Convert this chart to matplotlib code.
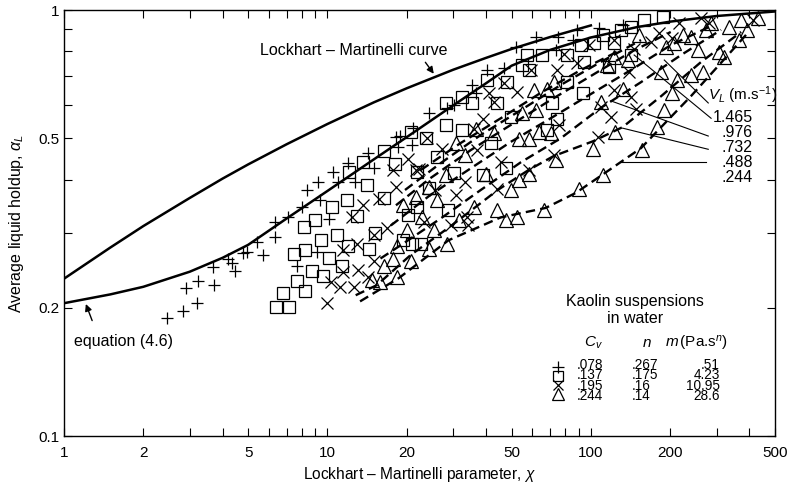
import matplotlib
matplotlib.use("Agg")
import matplotlib.pyplot as plt
from matplotlib.ticker import FixedLocator, FixedFormatter, NullFormatter

plt.rcParams['font.family'] = ['Liberation Sans', 'DejaVu Sans']
plt.rcParams['mathtext.fontset'] = 'custom'
plt.rcParams['mathtext.rm'] = 'Liberation Sans'
plt.rcParams['mathtext.it'] = 'Liberation Sans:italic'

# Lockhart-Martinelli curve
lm_x = [1, 1.5, 2, 3, 4, 5, 7, 10, 15, 20, 30, 40, 50, 70, 100]
lm_y = [0.234, 0.277, 0.311, 0.362, 0.402, 0.434, 0.484, 0.540, 0.607, 0.655,
        0.724, 0.772, 0.810, 0.864, 0.920]

# equation (4.6)
eq_x = [1, 1.5, 2, 3, 4, 5, 7, 10, 15, 20, 30, 40, 50, 70, 100, 150, 200, 300, 500]
eq_y = [0.205, 0.215, 0.224, 0.243, 0.262, 0.281, 0.324, 0.376, 0.446, 0.503,
        0.597, 0.673, 0.740, 0.806, 0.862, 0.912, 0.939, 0.968, 0.992]

# Kaolin suspensions, Cv = .078
plus_x = [2.46, 2.82, 3.21, 2.91, 3.23, 3.72, 3.68, 4.21, 4.34, 4.47, 4.78, 4.95,
          5.40, 5.71, 6.34, 6.34, 7.10, 7.66, 8.01, 8.36, 9.13, 9.22, 9.40, 10.1,
          10.5, 11.0, 12.0, 12.7, 14.2, 15.0, 18.2, 18.9, 21.0, 21.2, 24.2, 18.6,
          28.5, 30.2, 35.5, 36.5, 40.5, 46.7, 51.8, 61.7, 75.3, 85.2, 88.9, 107,
          132, 73.6]
plus_y = [0.189, 0.197, 0.205, 0.222, 0.231, 0.226, 0.249, 0.260, 0.255, 0.244,
          0.269, 0.270, 0.285, 0.266, 0.318, 0.293, 0.327, 0.250, 0.345, 0.378,
          0.270, 0.395, 0.358, 0.324, 0.417, 0.395, 0.437, 0.395, 0.461, 0.425,
          0.504, 0.507, 0.482, 0.528, 0.573, 0.477, 0.588, 0.600, 0.667, 0.637,
          0.723, 0.730, 0.819, 0.866, 0.866, 0.850, 0.898, 0.906, 0.921, 0.806]

# Cv = .137
sq_x = [6.39, 7.17, 6.78, 8.24, 7.66, 8.70, 9.59, 11.4, 10.1, 7.44, 8.24, 9.48,
        10.9, 12.0, 14.4, 15.2, 8.12, 9.00, 10.4, 11.9, 13.0, 16.4, 14.1, 12.1,
        13.7, 16.4, 18.0, 19.4, 21.0, 22.6, 21.8, 20.2, 21.9, 24.2, 28.8, 30.2,
        38.8, 47.5, 41.7, 32.5, 26.1, 23.6, 20.7, 28.1, 49.6, 68.3, 28.1, 32.5,
        35.5, 40.5, 48.2, 55.0, 58.2, 65.5, 57.4, 81.4, 91.6, 103, 111, 94.3,
        81.4, 93.0, 44.2, 74.5, 117, 130, 142, 159, 188, 122, 142, 71.5]
sq_y = [0.201, 0.201, 0.217, 0.219, 0.231, 0.244, 0.237, 0.251, 0.262, 0.268,
        0.273, 0.289, 0.297, 0.280, 0.275, 0.299, 0.309, 0.321, 0.344, 0.359,
        0.328, 0.362, 0.388, 0.416, 0.440, 0.467, 0.436, 0.288, 0.283, 0.283,
        0.417, 0.330, 0.344, 0.382, 0.339, 0.414, 0.410, 0.426, 0.487, 0.523,
        0.452, 0.500, 0.518, 0.537, 0.562, 0.523, 0.605, 0.626, 0.605, 0.685,
        0.676, 0.742, 0.723, 0.784, 0.784, 0.784, 0.827, 0.835, 0.874, 0.756,
        0.676, 0.637, 0.604, 0.556, 0.735, 0.898, 0.913, 0.947, 0.964, 0.835,
        0.784, 0.604]

# Cv = .195
cross_x = [9.95, 10.3, 11.2, 12.6, 11.5, 13.1, 11.5, 12.9, 15.0, 16.8, 15.0, 14.3,
           12.4, 13.7, 15.7, 18.2, 17.7, 20.3, 27.3, 22.2, 25.7, 30.7, 33.4, 37.1,
           45.5, 44.2, 58.2, 72.4, 75.6, 106, 29.4, 34.3, 23.3, 109, 122, 142, 119,
           33.9, 122, 146, 169, 181, 216, 262, 281, 412, 139, 148, 204, 79, 98,
           59.1, 74.5, 42.9, 52.5, 38.8, 36.0, 23.8, 21.6, 46.7, 41.0, 88.8]
cross_y = [0.205, 0.230, 0.224, 0.224, 0.243, 0.245, 0.273, 0.283, 0.296, 0.307,
           0.257, 0.236, 0.327, 0.348, 0.361, 0.385, 0.421, 0.448, 0.473, 0.424,
           0.378, 0.368, 0.395, 0.469, 0.440, 0.381, 0.421, 0.456, 0.537, 0.504,
           0.312, 0.312, 0.318, 0.593, 0.649, 0.626, 0.561, 0.327, 0.850, 0.812,
           0.842, 0.882, 0.930, 0.956, 0.930, 0.947, 0.716, 0.587, 0.858, 0.790,
           0.827, 0.723, 0.723, 0.609, 0.641, 0.556, 0.527, 0.500, 0.420, 0.673,
           0.637, 0.749]

# Cv = .244
tri_x = [20.7, 28.5, 36.0, 44.2, 47.5, 52.5, 66.4, 90.0, 111, 53.2, 58.2, 73.5,
         102, 124, 58.2, 63.4, 53.2, 42.9, 39.9, 30.7, 28.1, 33.4, 24.3, 26.1,
         21.6, 25.3, 22.9, 20.0, 24.3, 31.5, 157, 179, 190, 49.6, 70.4, 122, 213,
         240, 266, 185, 207, 274, 335, 430, 307, 321, 365, 240, 204, 392, 372,
         286, 223, 193, 254, 36.5, 55.0, 61.7, 68.3, 60.8, 72.4, 109, 132, 115,
         138, 152, 19.4, 18.4, 17.7, 16.4, 14.8, 15.9, 18.4]
tri_y = [0.257, 0.283, 0.345, 0.339, 0.321, 0.327, 0.339, 0.381, 0.410, 0.399,
         0.413, 0.444, 0.473, 0.518, 0.499, 0.518, 0.499, 0.514, 0.413, 0.486,
         0.410, 0.456, 0.385, 0.358, 0.364, 0.304, 0.327, 0.304, 0.275, 0.321,
         0.469, 0.532, 0.582, 0.378, 0.514, 0.777, 0.685, 0.704, 0.716, 0.716,
         0.835, 0.898, 0.913, 0.956, 0.799, 0.777, 0.850, 0.866, 0.637, 0.898,
         0.947, 0.930, 0.874, 0.819, 0.806, 0.527, 0.572, 0.582, 0.654, 0.649,
         0.676, 0.609, 0.654, 0.742, 0.763, 0.874, 0.348, 0.280, 0.261, 0.250,
         0.232, 0.230, 0.236]

# dashed constant-V_L curves
vl_curve_x = [
    [13.3, 18.7, 28.8, 45.5, 67.3, 87.6, 109, 155, 193, 240, 299, 388],
    [12.8, 15.4, 20.7, 29.4, 44.3, 58.0, 72.2, 102, 132, 185, 262, 372],
    [15.9, 18.9, 26.9, 38.2, 54.2, 76.9, 109, 155, 220, 312],
    [17.4, 24.6, 35.0, 49.6, 70.4, 100, 142, 201, 286],
    [18.2, 24.6, 35.0, 49.6, 70.4, 100, 142, 201],
    [19.7, 26.9, 38.2, 54.2, 76.9, 109, 155],
    [22.6, 32.0, 45.5, 64.5, 91.6, 130],
]
vl_curve_y = [
    [0.207, 0.235, 0.288, 0.326, 0.343, 0.372, 0.408, 0.474, 0.546, 0.628, 0.730, 0.874],
    [0.214, 0.226, 0.266, 0.311, 0.378, 0.421, 0.454, 0.492, 0.531, 0.628, 0.755, 0.888],
    [0.261, 0.280, 0.324, 0.378, 0.439, 0.500, 0.589, 0.677, 0.784, 0.898],
    [0.312, 0.368, 0.425, 0.490, 0.557, 0.635, 0.723, 0.827, 0.917],
    [0.348, 0.403, 0.469, 0.537, 0.615, 0.700, 0.797, 0.888],
    [0.378, 0.437, 0.509, 0.582, 0.667, 0.755, 0.850],
    [0.421, 0.487, 0.557, 0.639, 0.723, 0.806],
]

vl_labels = ["1.465", ".976", ".732", ".488", ".244"]
# pointer lines from the labels to the curves: (x0, y0, x1, y1)
pointers = [
    (279, 0.605, 190, 0.763),
    (286, 0.557, 146, 0.784),
    (279, 0.506, 119, 0.612),
    (279, 0.471, 132, 0.528),
    (274, 0.439, 130, 0.439),
]

legend_cv = [".078", ".137", ".195", ".244"]
legend_n = [".267", ".175", ".16", ".14"]
legend_m = [".51", "4.23", "10.95", "28.6"]

fig = plt.figure(figsize=(7.92, 4.87), dpi=100)
ax = fig.add_axes([64 / 792, 51 / 487, 711 / 792, 426 / 487])
ax.set_xscale("log")
ax.set_yscale("log")
ax.set_xlim(1, 500)
ax.set_ylim(0.1, 1)

ax.plot(lm_x, lm_y, color="k", lw=1.8)
ax.plot(eq_x, eq_y, color="k", lw=1.8)

for xs, ys in zip(vl_curve_x, vl_curve_y):
    ax.plot(xs, ys, color="k", lw=1.7, ls=(0, (4, 2.2)))

mk = dict(ls="none", color="k", mfc="none", mew=0.9)
ax.plot(plus_x, plus_y, marker="+", ms=9, **mk)
ax.plot(sq_x, sq_y, marker="s", ms=8.5, **mk)
ax.plot(cross_x, cross_y, marker="x", ms=8, **mk)
ax.plot(tri_x, tri_y, marker="^", ms=10, **mk)

for x0, y0, x1, y1 in pointers:
    ax.plot([x0, x1], [y0, y1], color="k", lw=0.8)

# ticks
ax.xaxis.set_major_locator(FixedLocator([1, 2, 5, 10, 20, 50, 100, 200, 500]))
ax.xaxis.set_major_formatter(FixedFormatter(["1", "2", "5", "10", "20", "50", "100", "200", "500"]))
ax.xaxis.set_minor_locator(FixedLocator([3, 4, 6, 7, 8, 9, 30, 40, 60, 70, 80, 90, 300, 400]))
ax.xaxis.set_minor_formatter(NullFormatter())
ax.yaxis.set_major_locator(FixedLocator([0.1, 0.2, 0.5, 1]))
ax.yaxis.set_major_formatter(FixedFormatter(["0.1", "0.2", "0.5", "1"]))
ax.yaxis.set_minor_locator(FixedLocator([0.3, 0.4, 0.6, 0.7, 0.8, 0.9]))
ax.yaxis.set_minor_formatter(NullFormatter())
ax.tick_params(which="both", direction="in", top=True, right=True, length=6, width=0.8,
               labelsize=11)
ax.tick_params(axis="x", pad=7)
ax.tick_params(axis="y", pad=3)
for s in ax.spines.values():
    s.set_linewidth(1.0)

ax.set_xlabel(r"Lockhart – Martinelli parameter, $\chi$", fontsize=11.2, labelpad=4)
ax.set_ylabel(r"Average liquid holdup, $\alpha_L$", fontsize=11.5, labelpad=9)

# annotations
ax.text(0.2757, 0.906, "Lockhart – Martinelli curve", transform=ax.transAxes,
        fontsize=11.5, ha="left", va="center")
ax.annotate("", xy=(25.7, 0.70), xytext=(23.2, 0.763),
            arrowprops=dict(arrowstyle="-|>", color="k", lw=1.0, mutation_scale=10))
ax.text(0.014, 0.2207, "equation (4.6)", transform=ax.transAxes,
        fontsize=11.5, ha="left", va="center")
ax.annotate("", xy=(1.2, 0.207), xytext=(1.29, 0.184),
            arrowprops=dict(arrowstyle="-|>", color="k", lw=1.0, mutation_scale=10))

ax.text(0.9058, 0.8005, r"$V_L$ (m.s$^{-1}$)", transform=ax.transAxes,
        fontsize=11, ha="left", va="center")
ax.text(0.969, 0.6777, "\n".join(vl_labels), transform=ax.transAxes, fontsize=11.5,
        ha="right", va="center", multialignment="right", linespacing=1.01)

# legend block
ax.text(0.803, 0.2958, "Kaolin suspensions\nin water", transform=ax.transAxes,
        fontsize=11.5, ha="center", va="center", linespacing=1.15)
ax.text(0.744, 0.2183, r"$C_v$", transform=ax.transAxes, fontsize=11, ha="center", va="center")
ax.text(0.820, 0.2183, r"$n$", transform=ax.transAxes, fontsize=11, ha="center", va="center")
ax.text(0.845, 0.2183, r"$m\,$(Pa.s$^{n}$)", transform=ax.transAxes, fontsize=11,
        ha="left", va="center")

row_y = [0.1627, 0.1412, 0.1197, 0.0982]
markers = [("+", 8), ("s", 7), ("x", 7), ("^", 8.5)]
for i, fy in enumerate(row_y):
    ax.plot([0.695], [fy], transform=ax.transAxes, marker=markers[i][0],
            ms=markers[i][1], clip_on=False, **mk)
col_y = sum(row_y) / len(row_y)
ax.text(0.7215, col_y, "\n".join(legend_cv), transform=ax.transAxes, fontsize=9.8,
        ha="left", va="center", linespacing=0.66)
ax.text(0.799, col_y, "\n".join(legend_n), transform=ax.transAxes, fontsize=9.8,
        ha="left", va="center", linespacing=0.66)
ax.text(0.9226, col_y, "\n".join(legend_m), transform=ax.transAxes, fontsize=9.8,
        ha="right", va="center", multialignment="right", linespacing=0.66)

fig.savefig("out.png", dpi=100)
